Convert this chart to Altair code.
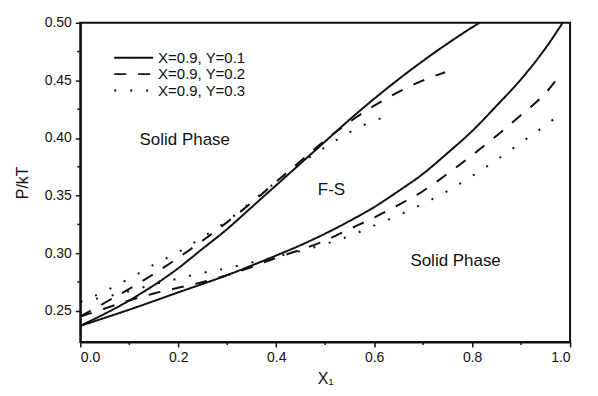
import altair as alt
import pandas as pd

FONT = "Liberation Sans, Arial, sans-serif"

series_names = ["X=0.9, Y=0.1", "X=0.9, Y=0.2", "X=0.9, Y=0.3"]

# Y=0.1 (solid)
s1_upper_x = [0.0, 0.1, 0.2, 0.25, 0.3, 0.35, 0.4, 0.45, 0.5, 0.55, 0.6, 0.65, 0.7, 0.75, 0.8, 0.815]
s1_upper_y = [0.237, 0.259, 0.287, 0.304, 0.321, 0.340, 0.359, 0.378, 0.397, 0.416, 0.434, 0.451, 0.467, 0.482, 0.496, 0.500]
s1_lower_x = [0.0, 0.1, 0.2, 0.3, 0.4, 0.45, 0.5, 0.55, 0.6, 0.65, 0.7, 0.75, 0.8, 0.85, 0.9, 0.95, 0.985]
s1_lower_y = [0.237, 0.251, 0.266, 0.281, 0.298, 0.307, 0.317, 0.328, 0.340, 0.354, 0.369, 0.387, 0.406, 0.428, 0.451, 0.478, 0.500]

# Y=0.2 (dashed)
s2_upper_x = [0.0, 0.05, 0.1, 0.15, 0.2, 0.25, 0.3, 0.35, 0.4, 0.45, 0.5, 0.55, 0.6, 0.65, 0.7, 0.745]
s2_upper_y = [0.245, 0.257, 0.269, 0.282, 0.296, 0.311, 0.327, 0.344, 0.362, 0.380, 0.398, 0.414, 0.428, 0.440, 0.450, 0.457]
s2_lower_x = [0.0, 0.05, 0.1, 0.15, 0.2, 0.25, 0.3, 0.35, 0.4, 0.45, 0.5, 0.55, 0.6, 0.65, 0.7, 0.75, 0.8, 0.85, 0.9, 0.95, 0.975]
s2_lower_y = [0.245, 0.252, 0.259, 0.265, 0.270, 0.275, 0.281, 0.288, 0.296, 0.303, 0.311, 0.321, 0.331, 0.342, 0.354, 0.369, 0.385, 0.402, 0.420, 0.439, 0.452]

# Y=0.3 (dotted)
s3_upper_x = [0.0, 0.05, 0.1, 0.15, 0.2, 0.25, 0.3, 0.35, 0.4, 0.45, 0.5, 0.55, 0.6, 0.64]
s3_upper_y = [0.258, 0.267, 0.278, 0.290, 0.301, 0.314, 0.328, 0.345, 0.362, 0.378, 0.392, 0.405, 0.415, 0.420]
s3_lower_x = [0.0, 0.05, 0.1, 0.15, 0.2, 0.25, 0.3, 0.35, 0.4, 0.45, 0.5, 0.55, 0.6, 0.65, 0.7, 0.75, 0.8, 0.85, 0.9, 0.95, 0.972]
s3_lower_y = [0.258, 0.262, 0.267, 0.273, 0.278, 0.283, 0.287, 0.292, 0.297, 0.302, 0.308, 0.315, 0.324, 0.333, 0.343, 0.354, 0.367, 0.381, 0.396, 0.411, 0.418]

x_ticks = [0.0, 0.2, 0.4, 0.6, 0.8, 1.0]
x_minor = [0.1, 0.3, 0.5, 0.7, 0.9]
y_ticks = [0.25, 0.30, 0.35, 0.40, 0.45, 0.50]
y_minor = [0.275, 0.325, 0.375, 0.425, 0.475]

ann_text = ["Solid Phase", "F-S", "Solid Phase"]
ann_x = [0.121, 0.485, 0.674]
ann_y = [0.398, 0.355, 0.293]

W, H = 491, 320
Y_MIN, Y_MAX = 0.223, 0.5

rows = []
for name, branches in zip(series_names, [
    [(s1_upper_x, s1_upper_y), (s1_lower_x, s1_lower_y)],
    [(s2_upper_x, s2_upper_y), (s2_lower_x, s2_lower_y)],
    [(s3_upper_x, s3_upper_y), (s3_lower_x, s3_lower_y)],
]):
    for bi, (xs, ys) in enumerate(branches):
        for xv, yv in zip(xs, ys):
            rows.append({"series": name, "branch": f"{name}-{bi}", "x": xv, "y": yv})
df = pd.DataFrame(rows)

dashes = [[1, 0], [12, 12], [2, 14]]

xscale = alt.Scale(domain=[0, 1], nice=False, zero=False)
yscale = alt.Scale(domain=[Y_MIN, Y_MAX], nice=False, zero=False)

lines = alt.Chart(df).mark_line(strokeWidth=2, color="#111", clip=True, interpolate="monotone").encode(
    x=alt.X("x:Q", scale=xscale, title="X₁",
            axis=alt.Axis(values=x_ticks, format=".1f", grid=False, tickSize=5,
                          labelPadding=4, titlePadding=6)),
    y=alt.Y("y:Q", scale=yscale, title="P/kT",
            axis=alt.Axis(values=y_ticks, format=".2f", grid=False, tickSize=5,
                          labelPadding=4, titlePadding=14)),
    strokeDash=alt.StrokeDash("series:N", scale=alt.Scale(domain=series_names, range=dashes), legend=None),
    detail="branch:N",
)

ann = alt.Chart(pd.DataFrame({"t": ann_text, "x": ann_x, "y": ann_y})).mark_text(
    align="left", baseline="middle", fontSize=17, font=FONT, color="#111"
).encode(x=alt.X("x:Q", scale=xscale), y=alt.Y("y:Q", scale=yscale), text="t:N")

xmin_df = pd.DataFrame({"x": x_minor})
xminor = alt.Chart(xmin_df).mark_rule(color="#111", strokeWidth=1.5).encode(
    x=alt.X("x:Q", scale=xscale), y=alt.value(H), y2=alt.value(H + 3))
ymin_df = pd.DataFrame({"y": y_minor})
yminor = alt.Chart(ymin_df).mark_rule(color="#111", strokeWidth=1.5).encode(
    y=alt.Y("y:Q", scale=yscale), x=alt.value(0), x2=alt.value(-3))

legend_layers = []
leg_y = [35, 51.5, 68]
for i, name in enumerate(series_names):
    ldf = pd.DataFrame({"label": [name]})
    legend_layers.append(
        alt.Chart(ldf).mark_rule(color="#111", strokeWidth=2, strokeDash=dashes[i]).encode(
            x=alt.value(34), x2=alt.value(73), y=alt.value(leg_y[i]))
    )
    legend_layers.append(
        alt.Chart(ldf).mark_text(align="left", baseline="middle", fontSize=15, font=FONT, color="#111").encode(
            x=alt.value(78), y=alt.value(leg_y[i]), text="label:N")
    )

chart = alt.layer(lines, ann, xminor, yminor, *legend_layers).properties(
    width=W, height=H,
    autosize=alt.AutoSizeParams(type="none"),
    padding={"left": 72.5, "top": 14.3, "right": 20, "bottom": 50},
    background="white",
).configure_view(stroke="#111", strokeWidth=2).configure_axis(
    domainColor="#111", domainWidth=2, tickColor="#111", tickWidth=1.5,
    labelFont=FONT, labelFontSize=14, labelColor="#111",
    titleFont=FONT, titleFontSize=16, titleColor="#111", titleFontWeight="normal",
)

chart.save("out.html", embed_options={"renderer": "svg", "actions": False})
